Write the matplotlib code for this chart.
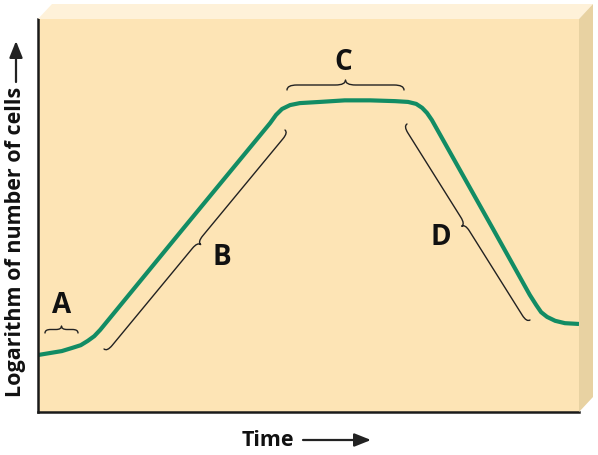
import numpy as np
import matplotlib
matplotlib.use("Agg")
import matplotlib.pyplot as plt
from matplotlib.path import Path
from matplotlib.patches import PathPatch, Polygon
from matplotlib.transforms import Affine2D

plt.rcParams['font.family'] = ['Open Sans', 'DejaVu Sans']

# curva de crecimiento (tiempo, log del numero de celulas)
tiempo = [0, 0.22, 0.44, 0.63, 0.79, 0.92, 1.04, 1.15, 2.68, 4.29, 4.40, 4.51,
          4.66, 4.84, 5.21, 5.67, 6.14, 6.60, 6.84, 6.99, 7.10, 7.19, 7.28,
          8.41, 9.09, 9.21, 9.30, 9.41, 9.56, 9.74, 10.0]
log_celulas = [1.45, 1.50, 1.55, 1.63, 1.70, 1.81, 1.93, 2.09, 4.66, 7.35, 7.56,
               7.71, 7.81, 7.86, 7.89, 7.93, 7.93, 7.91, 7.89, 7.84, 7.74, 7.61,
               7.43, 4.66, 2.98, 2.72, 2.54, 2.42, 2.32, 2.26, 2.24]

fases = ["A", "B", "C", "D"]

W, H = 598, 456
fig = plt.figure(figsize=(W / 100, H / 100), dpi=100)
# transformacion en pixeles (y hacia abajo) para los adornos
px = Affine2D().scale(1 / W, -1 / H).translate(0, 1) + fig.transFigure

frente = "#fde4b5"
arriba = "#fef1d9"
lado = "#e8d2a2"

# caja 3d: cara superior y lateral
fig.patches.append(Polygon([(38, 20), (52, 5), (593, 5), (579, 20)],
                           closed=True, transform=px, facecolor=arriba,
                           edgecolor="none"))
fig.patches.append(Polygon([(579, 20), (593, 5), (593, 398), (579, 413)],
                           closed=True, transform=px, facecolor=lado,
                           edgecolor="none"))

ax = fig.add_axes([38 / W, (H - 413) / H, 541 / W, 393 / H])
ax.set_facecolor(frente)
ax.set_xlim(0, 10)
ax.set_ylim(0, 10)
ax.set_xticks([])
ax.set_yticks([])
for s in ["top", "right"]:
    ax.spines[s].set_visible(False)
for s in ["left", "bottom"]:
    ax.spines[s].set_linewidth(1.8)
    ax.spines[s].set_color("#1a1a1a")

ax.plot(tiempo, log_celulas, color="#128c64", lw=3, solid_capstyle="butt",
        solid_joinstyle="round")


# llave entre dos puntos (en pixeles), h hacia la punta
def llave(p0, p1, h, lado_punta=1):
    p0 = np.array(p0, float)
    p1 = np.array(p1, float)
    d = p1 - p0
    L = np.hypot(*d)
    d = d / L
    n = np.array([-d[1], d[0]]) * lado_punta
    q = min(h * 1.0, L / 6)
    loc = [(0, 0), (0, h / 2), (q, h / 2), (L / 2 - q, h / 2),
           (L / 2, h / 2), (L / 2, h), (L / 2, h / 2), (L / 2 + q, h / 2),
           (L - q, h / 2), (L, h / 2), (L, 0)]
    codes = [Path.MOVETO, Path.CURVE3, Path.CURVE3, Path.LINETO,
             Path.CURVE3, Path.CURVE3, Path.CURVE3, Path.CURVE3,
             Path.LINETO, Path.CURVE3, Path.CURVE3]
    verts = [p0 + u * d + v * n for u, v in loc]
    fig.patches.append(PathPatch(Path(verts, codes), transform=px, fill=False,
                                 edgecolor="#222222", lw=1.0,
                                 capstyle="round", joinstyle="round"))


llave((45, 334), (78, 334), 7, -1)
llave((104, 350), (285, 131), 8, 1)
llave((287, 91), (404, 91), 10, -1)
llave((407, 125), (530, 321), 8, 1)

posiciones = [(62, 306), (222, 258), (343, 63), (441, 238)]
for letra, (x, y) in zip(fases, posiciones):
    fig.text(x, y, letra, transform=px, fontsize=20, fontweight="bold",
             ha="center", va="center", color="#111111")

# titulos de ejes con flechas
fig.text(16, 242, "Logarithm of number of cells", transform=px, rotation=90,
         fontsize=15.5, fontweight="bold", ha="center", va="center",
         color="#111111")
fig.text(268, 441, "Time", transform=px, fontsize=15.5, fontweight="bold",
         ha="center", va="center", color="#111111")
flecha = dict(arrowstyle="-|>,head_length=1.0,head_width=0.4", lw=1.6,
              color="#222222", shrinkA=0, shrinkB=0)
ax.annotate("", xy=(16, 42), xytext=(16, 83), xycoords=px, textcoords=px,
            arrowprops=flecha, annotation_clip=False)
ax.annotate("", xy=(371, 441), xytext=(303, 441), xycoords=px, textcoords=px,
            arrowprops=flecha, annotation_clip=False)

fig.savefig("out.png", dpi=100)
